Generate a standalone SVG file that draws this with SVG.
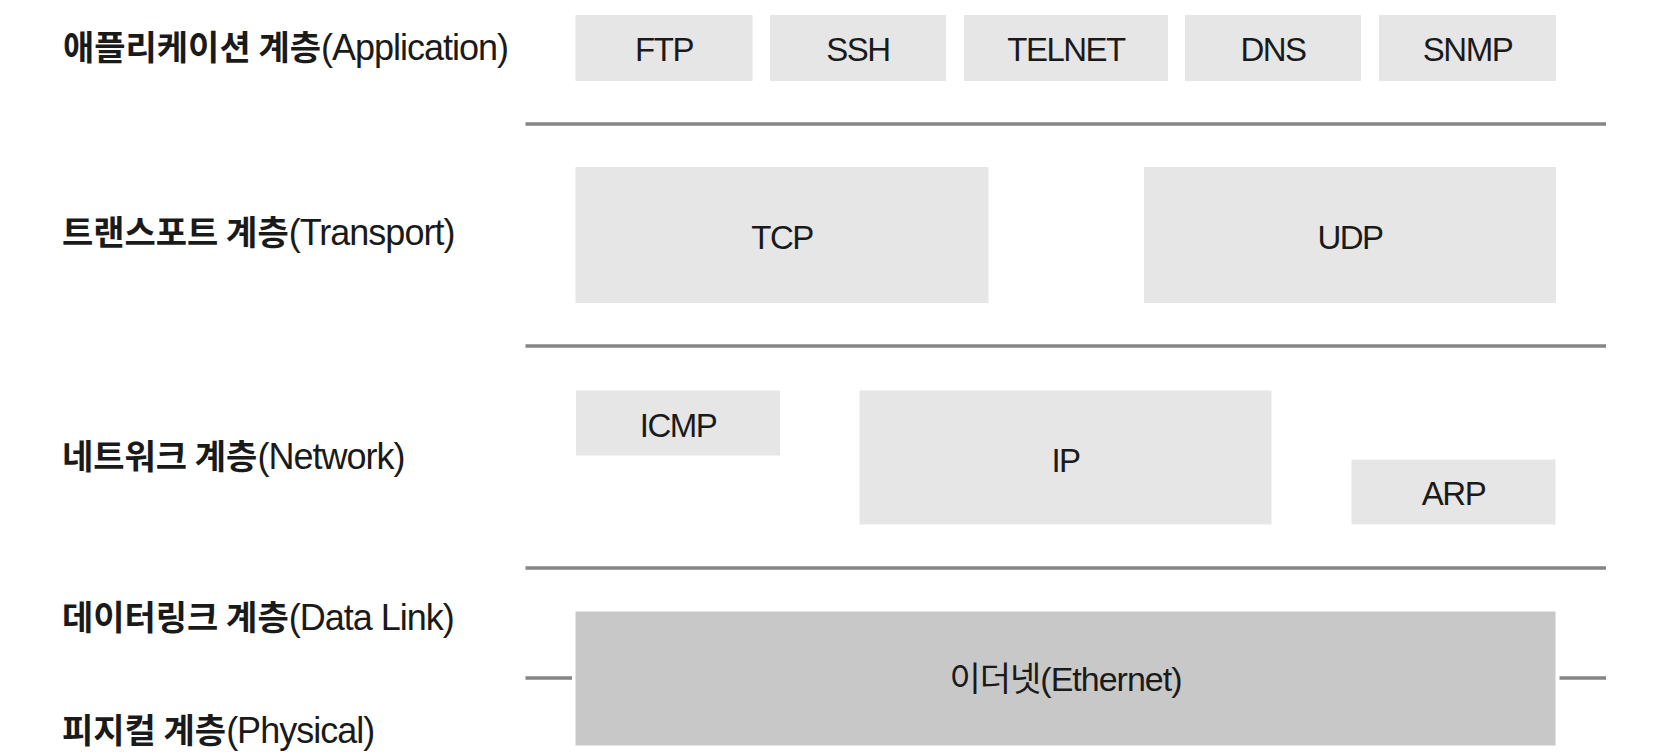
<svg xmlns="http://www.w3.org/2000/svg" width="1668" height="755" viewBox="0 0 1668 755">
<style>
.bg{fill:#ffffff}
.box{fill:#e6e6e6}
.eth{fill:#c8c8c8}
.sep{stroke:#858585;stroke-width:3.5;fill:none}
.lbl{font-family:"Liberation Sans","Noto Sans CJK KR",sans-serif;fill:#1a1a1a}
.ko{font-family:"Noto Sans CJK KR",sans-serif;font-weight:700;font-size:34px;letter-spacing:0px}
.en{font-family:"Liberation Sans","Noto Sans CJK KR",sans-serif;font-weight:400;font-size:36px;letter-spacing:-1px}
.bt{font-family:"Liberation Sans","Noto Sans CJK KR",sans-serif;font-size:33px;letter-spacing:-1.5px;fill:#1a1a1a;text-anchor:middle}
.et{letter-spacing:-1px;font-size:34px}
</style>
<rect class="bg" x="0" y="0" width="1668" height="755"/>

<g id="layer-labels">
  <text id="label-application" class="lbl" x="63" y="60"><tspan class="ko">애플리케이션 계층</tspan><tspan class="en">(Application)</tspan></text>
  <text id="label-transport" class="lbl" x="62" y="245"><tspan class="ko">트랜스포트 계층</tspan><tspan class="en">(Transport)</tspan></text>
  <text id="label-network" class="lbl" x="62" y="469"><tspan class="ko">네트워크 계층</tspan><tspan class="en">(Network)</tspan></text>
  <text id="label-datalink" class="lbl" x="62" y="630"><tspan class="ko">데이터링크 계층</tspan><tspan class="en">(Data Link)</tspan></text>
  <text id="label-physical" class="lbl" x="62" y="743"><tspan class="ko">피지컬 계층</tspan><tspan class="en">(Physical)</tspan></text>
</g>

<g id="connectors">
  <line class="sep" x1="525.5" y1="124" x2="1606" y2="124"/>
  <line class="sep" x1="525.5" y1="346" x2="1606" y2="346"/>
  <line class="sep" x1="525.5" y1="568" x2="1606" y2="568"/>
  <line class="sep" x1="525.5" y1="678" x2="572" y2="678"/>
  <line class="sep" x1="1559.5" y1="678" x2="1606" y2="678"/>
</g>

<g id="node-ftp"><rect class="box" x="575.5" y="15" width="177" height="66"/><text class="bt" x="664" y="61">FTP</text></g>
<g id="node-ssh"><rect class="box" x="770" y="15" width="176" height="66"/><text class="bt" x="858" y="61">SSH</text></g>
<g id="node-telnet"><rect class="box" x="964" y="15" width="204" height="66"/><text class="bt" x="1066" y="61">TELNET</text></g>
<g id="node-dns"><rect class="box" x="1185" y="15" width="176" height="66"/><text class="bt" x="1273" y="61">DNS</text></g>
<g id="node-snmp"><rect class="box" x="1379" y="15" width="177" height="66"/><text class="bt" x="1467.5" y="61">SNMP</text></g>

<g id="node-tcp"><rect class="box" x="575.5" y="167" width="413" height="136"/><text class="bt" x="782" y="248.5">TCP</text></g>
<g id="node-udp"><rect class="box" x="1144" y="167" width="412" height="136"/><text class="bt" x="1350" y="248.5">UDP</text></g>

<g id="node-icmp"><rect class="box" x="576" y="390.5" width="204" height="65"/><text class="bt" x="678" y="436.5">ICMP</text></g>
<g id="node-ip"><rect class="box" x="859.5" y="390.5" width="412" height="134"/><text class="bt" x="1065.5" y="471.5">IP</text></g>
<g id="node-arp"><rect class="box" x="1351.5" y="459.5" width="204" height="65"/><text class="bt" x="1453.5" y="505">ARP</text></g>

<g id="node-ethernet"><rect class="eth" x="575.5" y="611.5" width="980" height="134"/><text class="bt et" x="1065.5" y="691">이더넷(Ethernet)</text></g>
</svg>
